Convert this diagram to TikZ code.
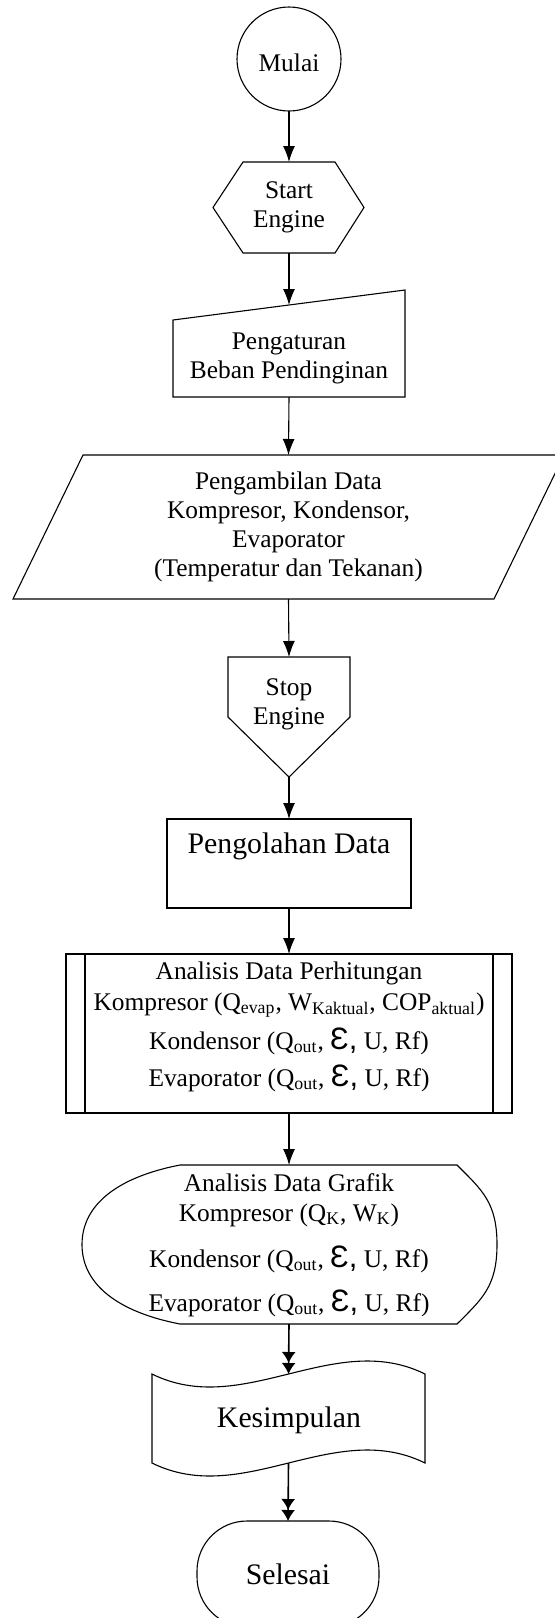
\documentclass[tikz,border=0pt]{standalone}
\usepackage{fontspec}
\setmainfont{Liberation Serif}
\newfontfamily\epsfont{Liberation Sans}
\usetikzlibrary{arrows.meta,calc}
\newcommand\myeps{{\epsfont\fontsize{15.5}{15.5}\selectfont Ɛ,}}
\newcommand\sbs[1]{\textsubscript{#1}}
\begin{document}
\begin{tikzpicture}[x=0.5pt,y=-0.5pt, line width=0.55pt,
  txt/.style={font=\fontsize{12.7}{14.6}\selectfont, align=center, inner sep=0pt},
  big/.style={font=\fontsize{14.9}{17}\selectfont, align=center, inner sep=0pt},
  box/.style={inner sep=0pt, outer sep=0pt},
  arr/.style={-{Latex[length=8pt,width=6pt]}},
  darr/.style={-{Latex[length=5.5pt,width=7pt]Latex[length=5.5pt,width=7pt]}}
]
\clip (0,0) rectangle (555,1618);

% Mulai
\node[box, circle, draw, minimum size=52pt] (mulai) at (289,59) {};
\node[txt] (mulaiT) at (289,63) {Mulai};

% Start Engine (hexagon)
\node[box, txt, minimum width=46pt, minimum height=45.5pt] (start) at (289,207.5) {Start\\Engine};
\draw (start.north west) -- (start.north east) -- ($(start.east)+(29,0)$) -- (start.south east)
  -- (start.south west) -- ($(start.west)+(-30,0)$) -- cycle;

% Pengaturan (manual input)
\node[box, txt, minimum width=116pt, minimum height=38.5pt] (atur) at (289,358.5) {Pengaturan\\Beban Pendinginan};
\draw (atur.north west) -- ($(atur.north east)+(0,-30)$) -- (atur.south east) -- (atur.south west) -- cycle;
\coordinate (aturIn) at ($(atur.north)+(0,-15)$);

% Pengambilan data (parallelogram)
\node[box, txt, minimum width=240.5pt, minimum height=72pt] (data) at (288.5,527)
  {Pengambilan Data\\Kompresor, Kondensor,\\Evaporator\\(Temperatur dan Tekanan)};
\draw ($(data.north west)+(35,0)$) -- ($(data.north east)+(35,0)$) -- ($(data.south east)+(-35,0)$)
  -- ($(data.south west)+(-35,0)$) -- cycle;

% Stop Engine (off-page)
\node[box, minimum width=61pt, minimum height=30pt] (stop) at (289,687) {};
\coordinate (stopTip) at ($(stop.south)+(0,60)$);
\draw (stop.north west) -- (stop.north east) -- (stop.south east) -- (stopTip) -- (stop.south west) -- cycle;
\node[txt] (stopT) at (289,704) {Stop\\Engine};

% Pengolahan Data
\node[box, draw, minimum width=122pt, minimum height=44.5pt] (olah) at (289,863.5) {};
\node[big] (olahT) at (289,846) {Pengolahan Data};

% Analisis Data Perhitungan (predefined process)
\node[box, draw, minimum width=223pt, minimum height=79.5pt] (hitung) at (289,1033.5) {};
\draw ($(hitung.north west)+(19,0)$) -- ($(hitung.south west)+(19,0)$);
\draw ($(hitung.north east)+(-19,0)$) -- ($(hitung.south east)+(-19,0)$);
\node[txt] (h1) at (289,973) {Analisis Data Perhitungan};
\node[txt] (h2) at (289,1005) {Kompresor (Q\sbs{evap}, W\sbs{Kaktual}, COP\sbs{aktual})};
\node[txt] (h3) at (289,1041) {Kondensor (Q\sbs{out}, \myeps\ U, Rf)};
\node[txt] (h4) at (289,1078) {Evaporator (Q\sbs{out}, \myeps\ U, Rf)};

% Analisis Data Grafik (display)
\node[box, minimum width=138.5pt, minimum height=79.5pt] (grafik) at (318.5,1244.5) {};
\draw (grafik.north west) -- (grafik.north east)
  .. controls +(25,25) and +(0,-42) .. ($(grafik.east)+(40,0)$)
  .. controls +(0,42) and +(25,-25) .. (grafik.south east)
  -- (grafik.south west)
  .. controls +(-62,-12) and +(0,40) .. ($(grafik.west)+(-98,0)$)
  .. controls +(0,-40) and +(-62,12) .. (grafik.north west) -- cycle;
\node[txt] (g1) at (289,1183) {Analisis Data Grafik};
\node[txt] (g2) at (289,1215) {Kompresor (Q\sbs{K}, W\sbs{K})};
\node[txt] (g3) at (289,1259) {Kondensor (Q\sbs{out}, \myeps\ U, Rf)};
\node[txt] (g4) at (289,1303) {Evaporator (Q\sbs{out}, \myeps\ U, Rf)};

% Kesimpulan (punched tape)
\node[box, minimum width=136.5pt, minimum height=44.5pt] (kes) at (288.5,1418.5) {};
\draw (kes.north west) .. controls +(91,45) and +(-91,-45) .. (kes.north east)
  -- (kes.south east) .. controls +(-91,-45) and +(91,45) .. (kes.south west) -- cycle;
\node[big] (kesT) at (289,1420) {Kesimpulan};

% Selesai (terminator)
\node[box, big, draw, rounded corners=25pt, minimum width=91pt, minimum height=53pt] (selesai) at (288,1574) {Selesai};

% connectors
\draw[arr] (mulai) -- (start);
\draw[arr] (start.south) -- (aturIn);
\draw[arr] (atur.south) -- (data.north);
\draw[arr] (data.south) -- (stop.north);
\draw[arr] (stopTip) -- (olah.north);
\draw[arr] (olah.south) -- (hitung.north);
\draw[arr] (hitung.south) -- (hitung.south |- grafik.north);
\draw[darr, line width=0.8pt] (hitung.south |- grafik.south) -- (kes.north);
\draw[darr, line width=0.8pt] (kes.south) -- (selesai.north);
\end{tikzpicture}
\end{document}
